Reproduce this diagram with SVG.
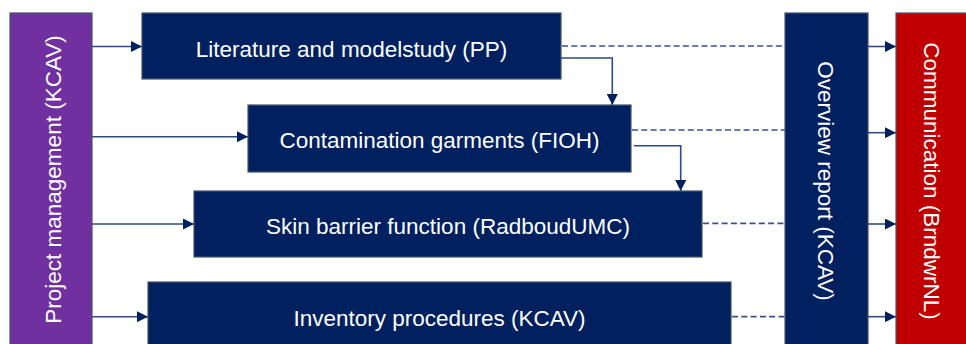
<svg xmlns="http://www.w3.org/2000/svg" width="966" height="344" viewBox="0 0 966 344">
<defs>
<style>
.box{stroke:#44546A;stroke-width:1.2}
.navy{fill:#002060}
.purple{fill:#7030A0}
.red{fill:#C00000}
.lbl{font-family:"Liberation Sans",Arial,sans-serif;font-size:22.5px;fill:#FFFFFF;text-anchor:middle}
.conn{fill:none;stroke:#2F4A85;stroke-width:1.6}
.dash{fill:none;stroke:#3A5090;stroke-width:1.7;stroke-dasharray:6 3.3}
</style>
<marker id="ah" viewBox="0 0 10 10" refX="10" refY="5" markerWidth="11" markerHeight="11" markerUnits="userSpaceOnUse" orient="auto">
<path d="M0,0 L10,5 L0,10 Z" fill="#002060"/>
</marker>
</defs>
<rect width="966" height="344" fill="#FFFFFF"/>
<g id="connectors">
<line class="conn" x1="92" y1="46.5" x2="142" y2="46.5" marker-end="url(#ah)"/>
<line class="conn" x1="92" y1="136.7" x2="248" y2="136.7" marker-end="url(#ah)"/>
<line class="conn" x1="92" y1="224" x2="194" y2="224" marker-end="url(#ah)"/>
<line class="conn" x1="92" y1="316.7" x2="148" y2="316.7" marker-end="url(#ah)"/>
<path class="conn" d="M561,58 H612.3 V105" marker-end="url(#ah)"/>
<path class="conn" d="M634,145.7 H680.7 V191" marker-end="url(#ah)"/>
<line class="dash" x1="562" y1="46" x2="785" y2="46"/>
<line class="dash" x1="632" y1="130" x2="785" y2="130"/>
<line class="dash" x1="703" y1="223.3" x2="785" y2="223.3"/>
<line class="dash" x1="732" y1="316.7" x2="785" y2="316.7"/>
<line class="conn" x1="868" y1="46.5" x2="896" y2="46.5" marker-end="url(#ah)"/>
<line class="conn" x1="868" y1="132.7" x2="896" y2="132.7" marker-end="url(#ah)"/>
<line class="conn" x1="868" y1="224" x2="896" y2="224" marker-end="url(#ah)"/>
<line class="conn" x1="868" y1="316.7" x2="896" y2="316.7" marker-end="url(#ah)"/>
</g>
<g id="project-management">
<rect class="box purple" x="10" y="13" width="82" height="360"/>
<text class="lbl" transform="translate(61,179.5) rotate(-90)" x="0" y="0">Project management (KCAV)</text>
</g>
<g id="literature">
<rect class="box navy" x="142" y="13" width="419" height="66"/>
<text class="lbl" x="351.5" y="56.5">Literature and modelstudy (PP)</text>
</g>
<g id="contamination">
<rect class="box navy" x="248" y="105" width="383" height="67"/>
<text class="lbl" x="439.5" y="148.3">Contamination garments (FIOH)</text>
</g>
<g id="skin-barrier">
<rect class="box navy" x="194" y="191" width="508" height="66"/>
<text class="lbl" x="448" y="234">Skin barrier function (RadboudUMC)</text>
</g>
<g id="inventory">
<rect class="box navy" x="148" y="282" width="583" height="90"/>
<text class="lbl" x="439.5" y="326">Inventory procedures (KCAV)</text>
</g>
<g id="overview-report">
<rect class="box navy" x="785" y="13" width="83" height="360"/>
<text class="lbl" transform="translate(818,181) rotate(90)" x="0" y="0">Overview report (KCAV)</text>
</g>
<g id="communication">
<rect class="box red" x="896" y="13" width="80" height="360"/>
<text class="lbl" transform="translate(924,181) rotate(90)" x="0" y="0">Communication (BrndwrNL)</text>
</g>
</svg>
